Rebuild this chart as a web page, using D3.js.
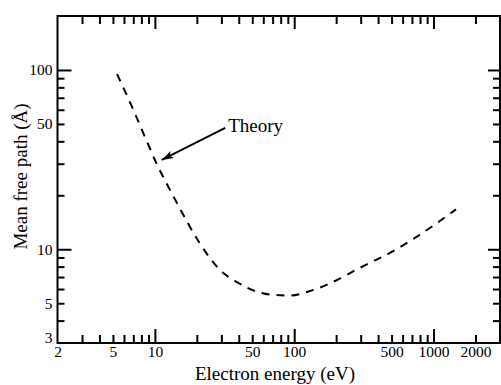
<!DOCTYPE html>
<html>
<head>
<meta charset="utf-8">
<script src="https://cdn.jsdelivr.net/npm/d3@7"></script>
<style>
  html, body { margin: 0; padding: 0; background: #fff; }
  svg { display: block; }
  text { font-family: "Liberation Serif", "Times New Roman", serif; fill: #000; }
</style>
</head>
<body>
<svg id="chart" width="501" height="385"></svg>
<script>
// ---- data ----
const energy = [5.35, 6.4, 7.3, 8.2, 9.2, 10.5, 11.8, 15.1, 21, 29.3, 39.3, 51.6, 69.5, 94.2, 126.8, 170.6, 308, 506, 830, 1450];
const mfp    = [94.8, 70.2, 55.7, 45, 36.6, 29, 24.3, 16.9, 10.8, 7.67, 6.52, 5.87, 5.57, 5.52, 5.81, 6.33, 8.0, 9.7, 12.3, 16.7];

const xDomain = [2, 3000];
const yDomain = [3, 200];
const xLabelTicks = [2, 5, 10, 50, 100, 500, 1000, 2000];
const xMajorTicks = [10, 100, 1000];
const xMinorTicks = [3, 4, 5, 6, 7, 8, 9, 20, 30, 40, 50, 60, 70, 80, 90, 200, 300, 400, 500, 600, 700, 800, 900, 2000];
const yLabelTicks = [3, 5, 10, 50, 100];
const yMajorTicks = [10, 100];
const yMinorTicks = [4, 5, 6, 7, 8, 9, 20, 30, 40, 50, 60, 70, 80, 90];

const xTitle = "Electron energy (eV)";
const yTitle = "Mean free path (Å)";
const annotation = "Theory";
const arrowTip = [11.2, 31.5];    // arrow tip position in data units (E, λ)
const arrowTail = [32, 47.6];     // arrow tail position in data units

// ---- layout ----
const L = 57.5, R = 500, T = 16, B = 343;
const svg = d3.select("#chart");
const x = d3.scaleLog().domain(xDomain).range([L, R]);
const y = d3.scaleLog().domain(yDomain).range([B, T]);

function tickAxis(axisFn, scale, vals, size, tx, ty) {
  const g = svg.append("g").attr("transform", `translate(${tx},${ty})`)
    .call(axisFn(scale).tickValues(vals).tickSize(size).tickFormat(""));
  g.select(".domain").remove();
  g.selectAll(".tick line").attr("stroke", "#000").attr("stroke-width", 2);
  return g;
}

// bottom (inward = up)
tickAxis(d3.axisBottom, x, xMajorTicks, -14, 0, B);
tickAxis(d3.axisBottom, x, xMinorTicks, -8, 0, B);
// top (inward = down)
tickAxis(d3.axisTop, x, xMajorTicks, -13, 0, T);
tickAxis(d3.axisTop, x, xMinorTicks, -8, 0, T);
// left (inward = right)
tickAxis(d3.axisLeft, y, yMajorTicks, -14, L, 0);
tickAxis(d3.axisLeft, y, yMinorTicks, -7, L, 0);
// right (inward = left)
tickAxis(d3.axisRight, y, yMajorTicks, -12, R, 0);
tickAxis(d3.axisRight, y, yMinorTicks, -7, R, 0);

// frame
svg.append("rect")
  .attr("x", L).attr("y", T).attr("width", R - L).attr("height", B - T)
  .attr("fill", "none").attr("stroke", "#000").attr("stroke-width", 2);

// tick labels
const gxl = svg.append("g").attr("transform", `translate(0,${B})`)
  .call(d3.axisBottom(x).tickValues(xLabelTicks).tickSize(0).tickPadding(3).tickFormat(d3.format("d")));
gxl.select(".domain").remove();
gxl.selectAll("text").attr("font-size", "15.5px").attr("font-family", null);

const gyl = svg.append("g").attr("transform", `translate(${L},0)`)
  .call(d3.axisLeft(y).tickValues(yLabelTicks).tickSize(0).tickPadding(5).tickFormat(d3.format("d")));
gyl.select(".domain").remove();
gyl.selectAll("text").attr("font-size", "15.5px").attr("font-family", null)
  .attr("dy", d => d === 3 ? "-0.05em" : "0.32em");

// axis titles
svg.append("text").attr("x", 275).attr("y", 380).attr("text-anchor", "middle")
  .attr("font-size", "19px").text(xTitle);
svg.append("text").attr("transform", "translate(26.5,176.5) rotate(-90)").attr("text-anchor", "middle")
  .attr("font-size", "19px").text(yTitle);

// curve
const pts = energy.map((e, i) => [e, mfp[i]]);
const line = d3.line().x(d => x(d[0])).y(d => y(d[1])).curve(d3.curveMonotoneX);
svg.append("path").datum(pts).attr("d", line)
  .attr("fill", "none").attr("stroke", "#000").attr("stroke-width", 2)
  .attr("stroke-dasharray", "8,7");

// annotation arrow
svg.append("defs").append("marker")
  .attr("id", "ah").attr("viewBox", "0 0 12 8").attr("refX", 12).attr("refY", 4)
  .attr("markerWidth", 12).attr("markerHeight", 8).attr("markerUnits", "userSpaceOnUse")
  .attr("orient", "auto")
  .append("path").attr("d", "M0,0 L12,4 L0,8 L3,4 Z").attr("fill", "#000");
svg.append("line")
  .attr("x1", x(arrowTail[0])).attr("y1", y(arrowTail[1]))
  .attr("x2", x(arrowTip[0])).attr("y2", y(arrowTip[1]))
  .attr("stroke", "#000").attr("stroke-width", 2).attr("marker-end", "url(#ah)");
svg.append("text").attr("x", x(arrowTail[0]) + 3).attr("y", y(arrowTail[1]) + 4)
  .attr("font-size", "19px").text(annotation);
</script>
</body>
</html>
